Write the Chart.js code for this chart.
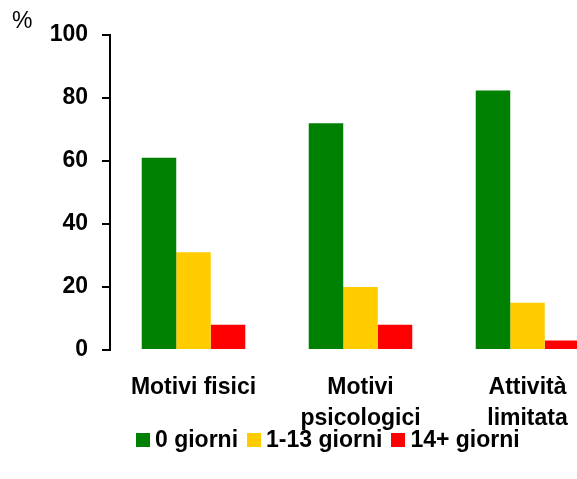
<!DOCTYPE html>
<html>
<head>
<meta charset="utf-8">
<script src="https://cdn.jsdelivr.net/npm/chart.js@4.4.1/dist/chart.umd.min.js"></script>
<style>
    html, body { margin: 0; padding: 0; background: #fff; }
    #wrap { width: 577px; height: 479px; overflow: hidden; position: relative; }
    #box { width: 611px; height: 479px; }
    #legend {
        position: absolute; left: 136px; top: 426px;
        display: flex; align-items: center; white-space: nowrap;
        font: bold 23px 'Liberation Sans', Arial, sans-serif; color: #000;
    }
    #legend .item { display: flex; align-items: center; margin-right: 9px; }
    #legend .swatch { width: 14px; height: 14px; margin-right: 5px; }
</style>
</head>
<body>
<div id="wrap">
    <div id="box"><canvas id="chart"></canvas></div>
    <div id="legend"></div>
</div>
<script>
// ========================================
// DATA
// ========================================
const categories = ['Motivi fisici', ['Motivi', 'psicologici'], ['Attività', 'limitata']];
const seriesNames = ['0 giorni', '1-13 giorni', '14+ giorni'];
const zeroDays = [61, 72, 82.4];
const oneToThirteen = [31, 20, 15];
const fourteenPlus = [8, 8, 3];
const yTicks = [0, 20, 40, 60, 80, 100];
const seriesColors = ['#008000', '#FFCC00', '#FF0000'];

const FONT = 'Liberation Sans, Arial, sans-serif';

// Draw the "%" unit label at top left
const unitLabel = {
    id: 'unitLabel',
    afterDraw(chart) {
        const c = chart.ctx;
        c.save();
        c.font = '23px ' + FONT;
        c.fillStyle = '#000';
        c.textBaseline = 'middle';
        c.textAlign = 'left';
        c.fillText('%', 12, 22);
        c.restore();
    }
};

// HTML legend built from the datasets
const htmlLegend = {
    id: 'htmlLegend',
    afterUpdate(chart) {
        const el = document.getElementById('legend');
        el.innerHTML = chart.data.datasets.map(ds => `
            <span class="item"><span class="swatch" style="background:${ds.backgroundColor}"></span>${ds.label}</span>
        `).join('');
    }
};

const ctx = document.getElementById('chart').getContext('2d');
new Chart(ctx, {
    type: 'bar',
    data: {
        labels: categories,
        datasets: [zeroDays, oneToThirteen, fourteenPlus].map((values, i) => ({
            label: seriesNames[i],
            data: values,
            backgroundColor: seriesColors[i],
            borderWidth: 0
        }))
    },
    options: {
        responsive: true,
        maintainAspectRatio: false,
        animation: false,
        layout: { padding: { left: 40, top: 35, right: 0, bottom: 39 } },
        datasets: {
            bar: { categoryPercentage: 0.62, barPercentage: 1.0 }
        },
        scales: {
            x: {
                grid: { display: false, drawTicks: false },
                border: { display: false },
                ticks: {
                    color: '#000',
                    padding: 22,
                    maxRotation: 0,
                    font: { family: FONT, size: 23, weight: 'bold', lineHeight: 1.35 }
                },
                afterFit(scale) { scale.height = 90; }
            },
            y: {
                min: 0,
                max: 100,
                afterBuildTicks(scale) { scale.ticks = yTicks.map(v => ({ value: v })); },
                grid: { drawOnChartArea: false, drawTicks: true, tickLength: 8, color: '#000', lineWidth: 2 },
                border: { display: true, color: '#000', width: 2 },
                ticks: {
                    color: '#000',
                    padding: 14,
                    font: { family: FONT, size: 23, weight: 'bold' }
                },
                afterFit(scale) { scale.width = 70; }
            }
        },
        plugins: {
            legend: { display: false },
            tooltip: { enabled: false }
        }
    },
    plugins: [unitLabel, htmlLegend]
});
</script>
</body>
</html>
